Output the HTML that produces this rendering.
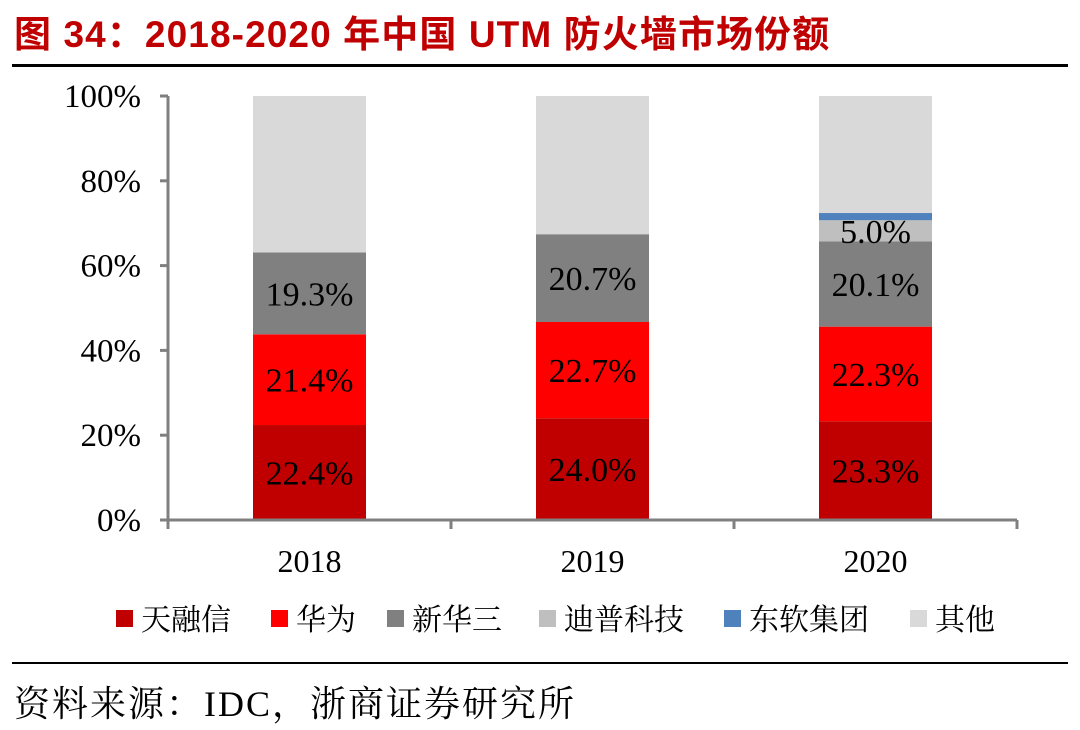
<!DOCTYPE html>
<html><head><meta charset="utf-8"><style>
body{margin:0;width:1080px;height:730px;background:#fff;overflow:hidden;position:relative;font-family:"Liberation Serif","Noto Serif CJK SC",serif}
.title{position:absolute;left:14px;top:4px;font:bold 37px "Liberation Sans","Noto Sans CJK SC",sans-serif;color:#c00000;white-space:nowrap;letter-spacing:1.1px}
.line{position:absolute;left:12px;width:1056px;height:3px;background:#000}
.src{position:absolute;left:14px;top:676px;font-size:36px;color:#000;white-space:nowrap;letter-spacing:2px}
</style></head><body>
<div class="title">图 34：2018-2020 年中国 UTM 防火墙市场份额</div>
<div class="line" style="top:64px"></div>
<svg id="c" width="1080" height="730" style="position:absolute;left:0;top:0"></svg>
<div class="line" style="top:662px;height:2px"></div>
<div class="src">资料来源：IDC，浙商证券研究所</div>
<script>
const categories=["2018","2019","2020"];
const seriesNames=["天融信","华为","新华三","迪普科技","东软集团","其他"];
const tianrongxin=[22.4,24.0,23.3];
const huawei=[21.4,22.7,22.3];
const xinhuasan=[19.3,20.7,20.1];
const dipu=[0,0,5.0];
const dongruan=[0,0,1.7];
const showLabel=[[true,true,true],[true,true,true],[true,true,true],[false,false,true],[false,false,false],[false,false,false]];
const yTicks=[0,20,40,60,80,100];
const colors=["#c00000","#ff0000","#808080","#bfbfbf","#4f81bd","#d9d9d9"];
const NS="http://www.w3.org/2000/svg";
const svg=document.getElementById('c');
const x0=168,y0=520,yTop=96,catW=283,barW=113;
const y=v=>y0-(y0-yTop)*v/100;
const xc=i=>x0+catW*(i+0.5);
function mk(t,a){const e=document.createElementNS(NS,t);for(const k in a)e.setAttribute(k,a[k]);svg.appendChild(e);return e;}
const others=categories.map((c,i)=>100-tianrongxin[i]-huawei[i]-xinhuasan[i]-dipu[i]-dongruan[i]);
const series=[tianrongxin,huawei,xinhuasan,dipu,dongruan,others];
categories.forEach((c,i)=>{
  let acc=0;
  series.forEach((s,k)=>{
    const v=s[i];if(v<=0){return;}
    const r=mk('rect',{x:xc(i)-barW/2,y:y(acc+v),width:barW,height:y(acc)-y(acc+v),fill:colors[k]});
    
    
    if(showLabel[k][i]){
      const t=mk('text',{x:xc(i),y:y(acc+v/2)+12,'text-anchor':'middle','font-size':34,fill:'#000'});
      t.textContent=v.toFixed(1)+'%';
      
      
    }
    acc+=v;
  });
  const t=mk('text',{x:xc(i),y:572,'text-anchor':'middle','font-size':32});
  t.textContent=c;
  
  
});
const ax=mk('line',{x1:x0,y1:yTop,x2:x0,y2:y0+8,stroke:'#808080','stroke-width':3});


const xa=mk('line',{x1:x0,y1:y0,x2:x0+catW*3,y2:y0,stroke:'#808080','stroke-width':3});


for(let i=0;i<=3;i++){const tk=mk('line',{x1:x0+catW*i,y1:y0,x2:x0+catW*i,y2:y0+9,stroke:'#808080','stroke-width':3});

}
yTicks.forEach(v=>{
  const tk=mk('line',{x1:x0-8,y1:y(v),x2:x0,y2:y(v),stroke:'#808080','stroke-width':3});
  
  
  const t=mk('text',{x:141,y:y(v)+11,'text-anchor':'end','font-size':33});
  t.textContent=v+'%';
  
  
});
const legX=[116,271,387,539,724,910];
seriesNames.forEach((n,k)=>{
  const r=mk('rect',{x:legX[k],y:610,width:17,height:17,fill:colors[k]});
  
  
  const t=mk('text',{x:legX[k]+25,y:630,'font-size':30,'font-family':'"Noto Serif CJK SC",serif'});
  t.textContent=n;
  
  
});
</script>
</body></html>
